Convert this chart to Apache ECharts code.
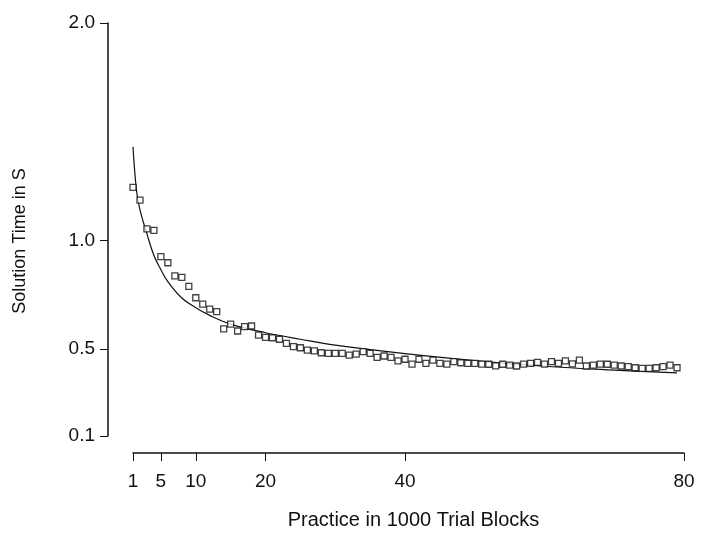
<!DOCTYPE html>
<html>
<head>
<meta charset="utf-8">
<script src="https://cdn.jsdelivr.net/npm/echarts@6/dist/echarts.min.js"></script>
<style>html,body{margin:0;padding:0;background:#fff}#c{width:714px;height:545px}</style>
</head>
<body>
<div id="c"></div>
<script>
// Practice blocks (in 1000 trials) and observed solution times (s)
const blocks = [];
for (let i = 1; i <= 79; i++) blocks.push(i);
const observedTimes = [
  1.244, 1.185, 1.053, 1.046, 0.925, 0.897, 0.837, 0.830, 0.788, 0.736,
  0.707, 0.684, 0.672, 0.593, 0.615, 0.583, 0.603, 0.606, 0.564, 0.554,
  0.552, 0.545, 0.526, 0.511, 0.506, 0.495, 0.492, 0.483, 0.480, 0.480,
  0.480, 0.472, 0.477, 0.488, 0.480, 0.462, 0.468, 0.462, 0.446, 0.453,
  0.431, 0.453, 0.434, 0.449, 0.434, 0.431, 0.442, 0.437, 0.434, 0.434,
  0.431, 0.430, 0.423, 0.430, 0.426, 0.422, 0.431, 0.434, 0.439, 0.431,
  0.442, 0.434, 0.446, 0.432, 0.449, 0.422, 0.426, 0.431, 0.430, 0.426,
  0.422, 0.419, 0.414, 0.411, 0.411, 0.414, 0.419, 0.426, 0.414
];
// Fitted power-function curve
const fitX = [1, 1.5, 2, 3, 4, 5, 6, 8, 10, 12, 15, 20, 25, 30, 40, 50, 60, 70, 79];
const fitY = [1.43, 1.23, 1.14, 1.03, 0.93, 0.865, 0.81, 0.735, 0.69, 0.655, 0.615, 0.575, 0.545, 0.518, 0.479, 0.447, 0.421, 0.403, 0.390];
const xTicks = [1, 5, 10, 20, 40, 80];
const yTicks = [0.1, 0.5, 1.0, 2.0];

const scatterData = blocks.map((b, i) => [b, observedTimes[i]]);
const lineData = fitX.map((x, i) => [x, fitY[i]]);

const chart = echarts.init(document.getElementById('c'), null, {renderer: 'canvas'});
const font = 'Liberation Sans, Arial, Helvetica, sans-serif';
chart.setOption({
  animation: false,
  backgroundColor: '#fff',
  grid: {left: 133, right: 30, top: 23, bottom: 109},
  xAxis: {
    type: 'value', min: 1, max: 80, offset: 17,
    name: 'Practice in 1000 Trial Blocks',
    nameLocation: 'middle', nameGap: 57,
    nameTextStyle: {fontFamily: font, fontSize: 20, color: '#111', padding: [0, 0, 0, 10]},
    axisLine: {show: true, lineStyle: {color: '#111', width: 1.5}},
    axisTick: {show: true, customValues: xTicks, length: 8, lineStyle: {color: '#111', width: 1}},
    axisLabel: {customValues: xTicks, fontFamily: font, fontSize: 19, color: '#111', margin: 19},
    splitLine: {show: false}
  },
  yAxis: {
    type: 'value', min: 0.1, max: 2.0, offset: 25,
    axisLine: {show: true, lineStyle: {color: '#111', width: 1.5}},
    axisTick: {show: true, customValues: yTicks, length: 8, lineStyle: {color: '#111', width: 1}},
    axisLabel: {customValues: yTicks, fontFamily: font, fontSize: 19, color: '#111', margin: 13,
      formatter: v => v.toFixed(1)},
    splitLine: {show: false}
  },
  graphic: [{
    type: 'text', x: 20, y: 241, rotation: Math.PI / 2,
    style: {text: 'Solution Time in S', fontFamily: font, fontSize: 18, fill: '#111',
      textAlign: 'center', textVerticalAlign: 'middle'}
  }],
  series: [
    {
      type: 'line', data: lineData, smooth: 0.4, showSymbol: false, symbol: 'none',
      lineStyle: {color: '#111', width: 1.2}, z: 2
    },
    {
      type: 'scatter', data: scatterData, symbol: 'rect', symbolSize: 6,
      itemStyle: {color: '#fff', borderColor: '#111', borderWidth: 1.3}, z: 3
    }
  ]
});
</script>
</body>
</html>
